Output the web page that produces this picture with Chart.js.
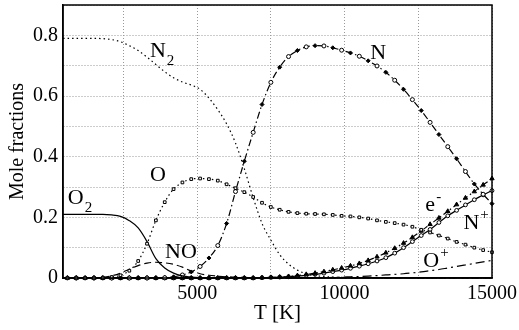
<!DOCTYPE html>
<html>
<head>
<meta charset="utf-8">
<script src="https://cdn.jsdelivr.net/npm/chart.js@4.4.1/dist/chart.umd.min.js"></script>
<style>
  body { margin: 0; background: #fff; }
  #wrap { width: 519px; height: 330px; position: relative; }
</style>
</head>
<body>
<div id="wrap"><canvas id="chart"></canvas></div>
<script>
// temperature grid [K]
const temps = [
  300, 600, 900, 1200, 1500, 1800, 2100, 2400, 2700, 3000,
  3300, 3600, 3900, 4200, 4500, 4800, 5100, 5400, 5700, 6000,
  6300, 6600, 6900, 7200, 7500, 7800, 8100, 8400, 8700, 9000,
  9300, 9600, 9900, 10200, 10500, 10800, 11100, 11400, 11700, 12000,
  12300, 12600, 12900, 13200, 13500, 13800, 14100, 14400, 14700, 15000
];

// mole fractions
const n2 = [
  0.79, 0.79, 0.79, 0.79, 0.79, 0.789, 0.786, 0.779, 0.766, 0.75,
  0.728, 0.704, 0.68, 0.66, 0.646, 0.636, 0.622, 0.593, 0.555, 0.508,
  0.445, 0.36, 0.265, 0.18, 0.125, 0.077, 0.046, 0.026, 0.014, 0.008,
  0.005, 0.003, 0.002, 0.001, 0, 0, 0, 0, 0, 0,
  0, 0, 0, 0, 0, 0, 0, 0, 0, 0
];
const o2 = [
  0.21, 0.21, 0.21, 0.21, 0.21, 0.21, 0.208, 0.203, 0.189, 0.165,
  0.12, 0.064, 0.033, 0.016, 0.007, 0.003, 0.001, 0, 0, 0,
  0, 0, 0, 0, 0, 0, 0, 0, 0, 0,
  0, 0, 0, 0, 0, 0, 0, 0, 0, 0,
  0, 0, 0, 0, 0, 0, 0, 0, 0, 0
];
const no = [
  0, 0, 0, 0, 0, 0.002, 0.007, 0.016, 0.029, 0.041,
  0.049, 0.052, 0.05, 0.045, 0.036, 0.023, 0.014, 0.009, 0.006, 0.004,
  0.003, 0.002, 0.001, 0, 0, 0, 0, 0, 0, 0,
  0, 0, 0, 0, 0, 0, 0, 0, 0, 0,
  0, 0, 0, 0, 0, 0, 0, 0, 0, 0
];
const o = [
  0, 0, 0, 0, 0, 0.001, 0.003, 0.009, 0.024, 0.056,
  0.113, 0.19, 0.25, 0.293, 0.315, 0.326, 0.328, 0.326, 0.321, 0.309,
  0.296, 0.283, 0.267, 0.248, 0.234, 0.225, 0.218, 0.214, 0.212, 0.211,
  0.21, 0.208, 0.205, 0.203, 0.2, 0.196, 0.19, 0.185, 0.181, 0.176,
  0.169, 0.159, 0.15, 0.14, 0.13, 0.119, 0.11, 0.1, 0.092, 0.085
];
const n = [
  0, 0, 0, 0, 0, 0, 0, 0, 0, 0,
  0, 0, 0.001, 0.004, 0.01, 0.02, 0.038, 0.066, 0.107, 0.18,
  0.285, 0.385, 0.48, 0.572, 0.645, 0.695, 0.73, 0.75, 0.762, 0.766,
  0.765, 0.759, 0.751, 0.742, 0.731, 0.716, 0.699, 0.678, 0.652, 0.622,
  0.588, 0.552, 0.513, 0.473, 0.433, 0.393, 0.351, 0.31, 0.276, 0.245
];
const electrons = [
  0, 0, 0, 0, 0, 0, 0, 0, 0, 0,
  0, 0, 0, 0, 0, 0, 0, 0, 0, 0,
  0, 0, 0, 0.001, 0.002, 0.003, 0.005, 0.008, 0.012, 0.016,
  0.021, 0.027, 0.033, 0.04, 0.048, 0.058, 0.07, 0.083, 0.098, 0.115,
  0.134, 0.155, 0.177, 0.198, 0.22, 0.242, 0.264, 0.285, 0.307, 0.328
];
const nPlus = [
  0, 0, 0, 0, 0, 0, 0, 0, 0, 0,
  0, 0, 0, 0, 0, 0, 0, 0, 0, 0,
  0, 0, 0, 0.001, 0.002, 0.003, 0.004, 0.006, 0.009, 0.012,
  0.016, 0.021, 0.026, 0.032, 0.039, 0.047, 0.056, 0.067, 0.082, 0.1,
  0.12, 0.14, 0.16, 0.183, 0.205, 0.223, 0.241, 0.258, 0.274, 0.288
];
const oPlus = [
  0, 0, 0, 0, 0, 0, 0, 0, 0, 0,
  0, 0, 0, 0, 0, 0, 0, 0, 0, 0,
  0, 0, 0, 0, 0, 0, 0, 0, 0, 0.001,
  0.001, 0.002, 0.003, 0.004, 0.005, 0.006, 0.008, 0.01, 0.012, 0.014,
  0.017, 0.02, 0.024, 0.028, 0.033, 0.038, 0.043, 0.048, 0.053, 0.058
];

const xTicks = [2500, 5000, 7500, 10000, 12500, 15000];
const yTicks = [0, 0.1, 0.2, 0.3, 0.4, 0.5, 0.6, 0.7, 0.8, 0.9];

// curve labels, placed in data units
const curveLabels = [
  { text: 'N', sub: '2', x: 3400, y: 0.729 },
  { text: 'O', x: 3400, y: 0.32 },
  { text: 'O', sub: '2', x: 615, y: 0.245 },
  { text: 'NO', x: 3910, y: 0.065 },
  { text: 'N', x: 10870, y: 0.722 },
  { text: 'e', sup: '-', x: 12740, y: 0.222 },
  { text: 'N', sup: '+', x: 14030, y: 0.163 },
  { text: 'O', sup: '+', x: 12670, y: 0.036 }
];

const serif = '"Liberation Serif", "DejaVu Serif", serif';

function pts(arr) {
  return arr.map((v, i) => ({ x: temps[i], y: v }));
}

function series(arr, extra) {
  return Object.assign({
    data: pts(arr),
    borderColor: '#000',
    borderWidth: 1.2,
    pointRadius: 0,
    cubicInterpolationMode: 'monotone',
    clip: { left: 0, top: 0, right: 5, bottom: 5 }
  }, extra);
}

const labelPlugin = {
  id: 'labels',
  afterDatasetsDraw(chart) {
    const ctx = chart.ctx;
    const xs = chart.scales.x, ys = chart.scales.y;
    const a = chart.chartArea;
    ctx.save();
    ctx.fillStyle = '#000';
    ctx.textBaseline = 'alphabetic';
    ctx.textAlign = 'left';
    curveLabels.forEach(l => {
      const px = xs.getPixelForValue(l.x);
      const py = ys.getPixelForValue(l.y);
      ctx.font = '22px ' + serif;
      ctx.fillText(l.text, px, py);
      const w = ctx.measureText(l.text).width;
      ctx.font = '15px ' + serif;
      if (l.sub) ctx.fillText(l.sub, px + w + 1, py + 8);
      if (l.sup) ctx.fillText(l.sup, px + w + 1, py - 10);
    });
    // frame
    ctx.strokeStyle = '#000';
    ctx.lineWidth = 1.5;
    ctx.strokeRect(a.left, a.top, a.right - a.left, a.bottom - a.top);
    ctx.restore();
  }
};

new Chart(document.getElementById('chart'), {
  type: 'line',
  data: {
    datasets: [
      series(n2, { label: 'N2', borderDash: [1.5, 3] }),
      series(o, {
        label: 'O', borderDash: [1.5, 3],
        pointRadius: 1.9, pointStyle: 'rect',
        pointBackgroundColor: '#fff', pointBorderColor: '#000', pointBorderWidth: 1
      }),
      series(o2, { label: 'O2' }),
      series(no, { label: 'NO', borderDash: [7, 4] }),
      series(n, {
        label: 'N', borderDash: [7, 3, 1.5, 3],
        pointRadius: 2,
        pointStyle: c => (c.dataIndex % 2 ? 'rectRot' : 'circle'),
        pointBackgroundColor: c => (c.dataIndex % 2 ? '#000' : '#fff'),
        pointBorderColor: '#000', pointBorderWidth: 1
      }),
      series(electrons, {
        label: 'e-', borderDash: [5, 3, 1.5, 3],
        pointRadius: 2.5, pointStyle: 'triangle',
        pointBackgroundColor: '#000', pointBorderColor: '#000', pointBorderWidth: 1
      }),
      series(nPlus, {
        label: 'N+',
        pointRadius: 1.9, pointStyle: 'circle',
        pointBackgroundColor: '#fff', pointBorderColor: '#000', pointBorderWidth: 1
      }),
      series(oPlus, { label: 'O+', borderDash: [9, 4, 2, 4] })
    ]
  },
  options: {
    responsive: true,
    maintainAspectRatio: false,
    animation: false,
    events: [],
    layout: { padding: { top: 3, right: 27, left: 0, bottom: 0 } },
    plugins: {
      legend: { display: false },
      tooltip: { enabled: false }
    },
    scales: {
      x: {
        type: 'linear',
        min: 450,
        max: 15000,
        afterBuildTicks: s => { s.ticks = xTicks.map(v => ({ value: v })); },
        afterFit: s => { s.height = 52; s.paddingLeft = 0; s.paddingRight = 0; },
        ticks: {
          color: '#000',
          font: { family: serif, size: 20 },
          padding: 4,
          maxRotation: 0,
          autoSkip: false,
          callback: v => (v % 5000 === 0 ? String(v) : '')
        },
        grid: { color: '#999', lineWidth: 1, drawTicks: false },
        border: { display: true, color: '#000', width: 1.5, dash: [1, 2] },
        title: {
          display: true,
          text: 'T [K]',
          color: '#000',
          font: { family: serif, size: 21 },
          padding: { top: 0, bottom: 4 }
        }
      },
      y: {
        min: 0,
        max: 0.9,
        afterBuildTicks: s => { s.ticks = yTicks.map(v => ({ value: v })); },
        afterFit: s => { s.width = 63; s.paddingTop = 0; s.paddingBottom = 0; },
        ticks: {
          color: '#000',
          font: { family: serif, size: 20 },
          padding: 5,
          autoSkip: false,
          callback: v => {
            const r = Math.round(v * 10);
            if (r % 2) return '';
            return r === 0 ? '0' : (r / 10).toFixed(1);
          }
        },
        grid: { color: '#999', lineWidth: 1, drawTicks: false },
        border: { display: true, color: '#000', width: 1.5, dash: [1, 2] },
        title: {
          display: true,
          text: 'Mole fractions',
          color: '#000',
          font: { family: serif, size: 20 },
          padding: { top: 6, bottom: 0 }
        }
      }
    }
  },
  plugins: [labelPlugin]
});
</script>
</body>
</html>
